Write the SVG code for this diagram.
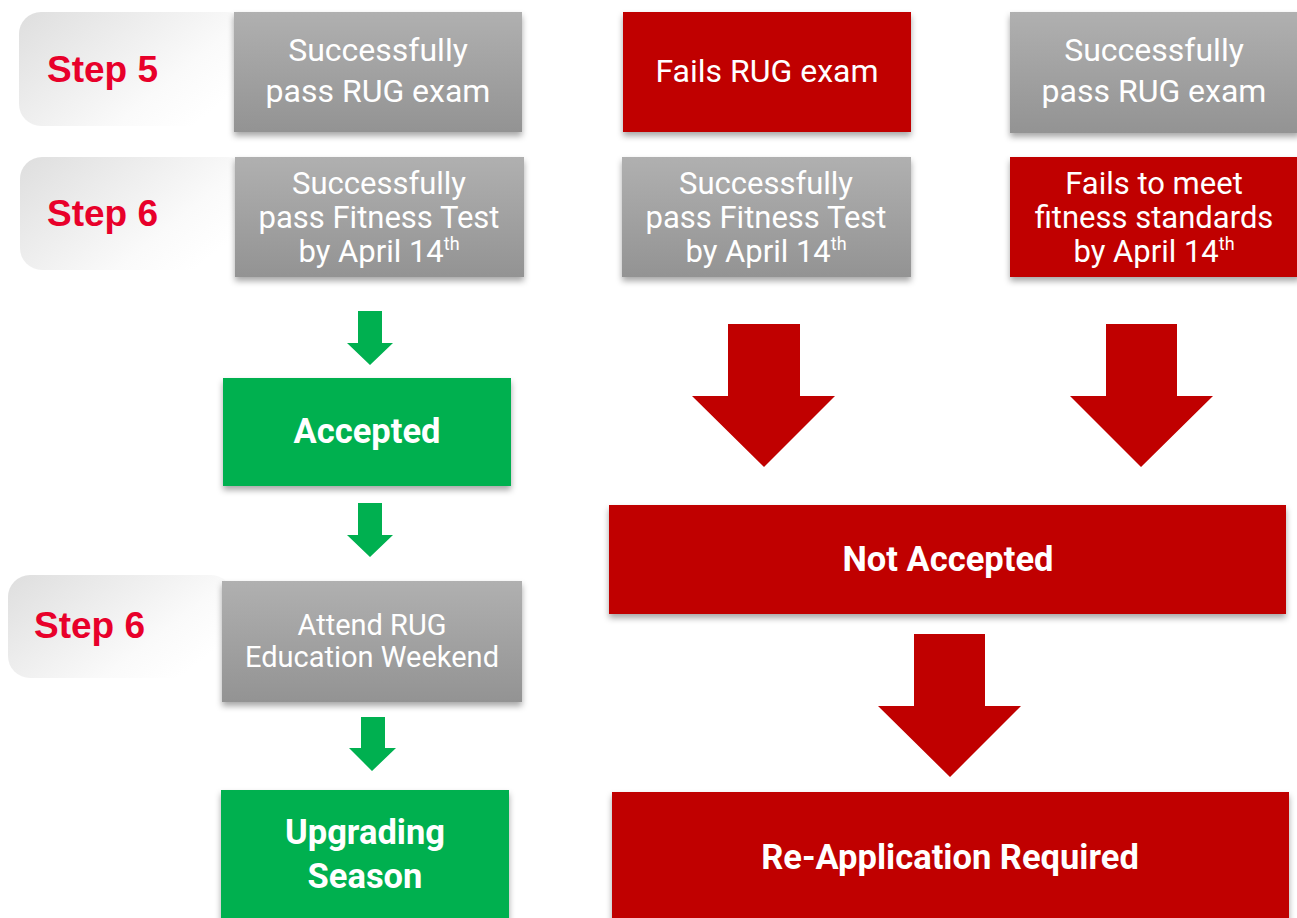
<svg xmlns="http://www.w3.org/2000/svg" width="1297" height="918" viewBox="0 0 1297 918">
<defs>
<linearGradient id="gray" x1="0" y1="0" x2="0" y2="1">
<stop offset="0" stop-color="#b0b0b0"/>
<stop offset="1" stop-color="#939393"/>
</linearGradient>
<linearGradient id="pill" x1="0" y1="0" x2="1" y2="0.6">
<stop offset="0" stop-color="#dedede"/>
<stop offset="0.75" stop-color="#fafafa"/>
<stop offset="1" stop-color="#ffffff"/>
</linearGradient>
<filter id="sh" x="-5%" y="-10%" width="110%" height="125%">
<feDropShadow dx="0" dy="4" stdDeviation="3" flood-color="#000" flood-opacity="0.35"/>
</filter>
</defs>
<style>
.gray{fill:url(#gray);filter:url(#sh)}
.red{fill:#c00000;filter:url(#sh)}
.green{fill:#00b050;filter:url(#sh)}
.pill{fill:url(#pill)}
.step{font-family:"Liberation Sans",Arial,sans-serif;font-weight:bold;font-size:37px;fill:#e8002a}
.t{font-family:Roboto,"Liberation Sans",sans-serif;font-size:32px;fill:#ffffff;text-anchor:middle}
.t3{font-family:Roboto,"Liberation Sans",sans-serif;font-size:31px;fill:#ffffff;text-anchor:middle}
.sm{font-size:29px}
.b{font-family:Roboto,"Liberation Sans",sans-serif;font-weight:bold;font-size:34.5px;fill:#ffffff;text-anchor:middle}
.sup{font-size:18px}
.ga{fill:#00b050}
.ra{fill:#c00000}
</style>
<rect width="1297" height="918" fill="#ffffff"/>

<g id="step5">
<rect class="pill" x="19" y="12" width="230" height="114" rx="22"/>
<text class="step" x="47" y="82">Step 5</text>
</g>
<g id="step6a">
<rect class="pill" x="20" y="157" width="230" height="113" rx="22"/>
<text class="step" x="47" y="226">Step 6</text>
</g>
<g id="step6b">
<rect class="pill" x="8" y="575" width="225" height="103" rx="22"/>
<text class="step" x="34" y="638">Step 6</text>
</g>

<g id="pass-rug-1">
<rect class="gray" x="234" y="12" width="288" height="120"/>
<text class="t" x="378" y="61">Successfully</text>
<text class="t" x="378" y="102">pass RUG exam</text>
</g>
<g id="pass-fit-1">
<rect class="gray" x="235" y="157" width="289" height="120"/>
<text class="t3" x="379" y="194">Successfully<tspan x="379" dy="34">pass Fitness Test</tspan><tspan x="379" dy="34">by April 14</tspan><tspan class="sup" dy="-12">th</tspan></text>
</g>
<g id="fails-rug">
<rect class="red" x="623" y="12" width="288" height="120"/>
<text class="t" x="767" y="82">Fails RUG exam</text>
</g>
<g id="pass-fit-2">
<rect class="gray" x="622" y="157" width="289" height="120"/>
<text class="t3" x="766" y="194">Successfully<tspan x="766" dy="34">pass Fitness Test</tspan><tspan x="766" dy="34">by April 14</tspan><tspan class="sup" dy="-12">th</tspan></text>
</g>
<g id="pass-rug-3">
<rect class="gray" x="1010" y="12" width="290" height="121"/>
<text class="t" x="1154" y="61">Successfully</text>
<text class="t" x="1154" y="102">pass RUG exam</text>
</g>
<g id="fails-fit">
<rect class="red" x="1010" y="157" width="290" height="120"/>
<text class="t3" x="1154" y="194">Fails to meet<tspan x="1154" dy="34">fitness standards</tspan><tspan x="1154" dy="34">by April 14</tspan><tspan class="sup" dy="-12">th</tspan></text>
</g>
<g id="accepted">
<rect class="green" x="223" y="378" width="288" height="108"/>
<text class="b" x="367" y="443">Accepted</text>
</g>
<g id="attend">
<rect class="gray" x="222" y="581" width="300" height="121"/>
<text class="t sm" x="372" y="635">Attend RUG</text>
<text class="t sm" x="372" y="667">Education Weekend</text>
</g>
<g id="upgrading">
<rect class="green" x="221" y="790" width="288" height="140"/>
<text class="b" x="365" y="844">Upgrading</text>
<text class="b" x="365" y="888">Season</text>
</g>
<g id="not-accepted">
<rect class="red" x="609" y="505" width="677" height="109"/>
<text class="b" x="948" y="571">Not Accepted</text>
</g>
<g id="reapply">
<rect class="red" x="612" y="792" width="677" height="140"/>
<text class="b" x="950" y="869">Re-Application Required</text>
</g>

<g id="connectors">
<polygon class="ga" points="358,311 382,311 382,343 393,343 370,365 347,343 358,343"/>
<polygon class="ga" points="358,503 382,503 382,535 393,535 370,557 347,535 358,535"/>
<polygon class="ga" points="361,717 385,717 385,748 396,748 372,771 349,748 361,748"/>
<polygon class="ra" points="728,324 800,324 800,396 835,396 764,467 692,396 728,396"/>
<polygon class="ra" points="1106,324 1177,324 1177,396 1213,396 1141,467 1070,396 1106,396"/>
<polygon class="ra" points="914,634 985,634 985,706 1021,706 950,777 878,706 914,706"/>
</g>
</svg>
